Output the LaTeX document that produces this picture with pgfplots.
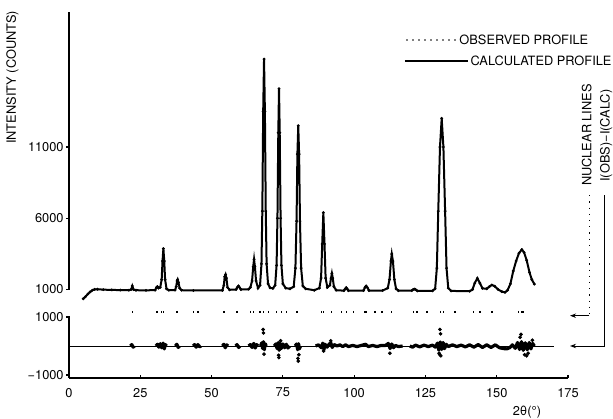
\documentclass[border=0pt]{standalone}
\usepackage{fontspec}
\setmainfont{TeX Gyre Heros}
\usepackage{pgfplots}
\usepackage{pgfplotstable}
\pgfplotsset{compat=1.18}
\usetikzlibrary{arrows.meta}

% powder profile (2theta, counts)
\pgfplotstableread{
x y
5.0 350
5.8 500
6.6 680
7.4 830
8.2 950
9.0 1010
10 1020
12 990
15 970
18 960
21 950
21.8 1000
22.2 1250
22.6 1000
23.5 950
27 940
30.2 960
30.7 1150
31.0 1200
31.4 1100
32.0 1150
32.5 1700
32.8 3000
33.1 3870
33.4 3000
33.7 1700
34.2 1050
35 950
37.2 960
37.6 1200
37.9 1600
38.1 1700
38.4 1500
38.8 1100
39.5 950
43.6 930
53.8 940
54.3 1300
54.6 1900
54.9 2050
55.2 1800
55.6 1150
56.3 980
58.6 1000
59.0 1150
59.4 1250
59.8 1150
60.3 1000
63.0 1020
63.6 1150
64.2 1600
64.6 2600
64.9 3120
65.2 2600
65.6 1600
66.3 1100
67.0 1300
67.5 2800
67.8 6500
68.1 13500
68.4 17170
68.7 13500
69.0 6500
69.3 2800
69.8 1400
70.5 1120
71.5 1080
72.3 1300
72.8 2700
73.1 6000
73.4 12000
73.65 15100
73.9 12000
74.2 6000
74.5 2700
75.0 1400
76.0 1100
77.5 1050
78.8 1200
79.4 2500
79.8 5800
80.1 10500
80.4 12500
80.7 10500
81.0 5800
81.4 2500
82.0 1250
83.0 1050
86 950
87.8 1100
88.4 1800
88.8 4200
89.2 6400
89.6 4200
90.0 1800
90.6 1150
91.5 1300
91.9 1800
92.2 2130
92.5 1800
92.9 1200
93.7 950
96.4 920
96.9 1050
97.2 1130
97.5 1050
98.0 920
103.3 930
103.8 1150
104.2 1250
104.6 1150
105.2 930
110 930
111.8 1100
112.4 1700
112.9 3000
113.2 3490
113.6 3000
114.1 1700
114.7 1050
115.5 920
120.2 920
120.7 1000
121.1 1030
121.5 1000
122.2 900
127.5 910
128.4 1050
129.0 2500
129.5 6500
130.1 11000
130.7 13010
131.3 11000
131.9 6500
132.4 2500
133.0 1100
134.0 900
140.5 880
141.5 1000
142.3 1450
143.2 1790
144.1 1450
145.0 1080
146.5 1050
147.4 1200
148.3 1320
149.3 1230
150.5 1000
151.8 850
152.9 800
153.8 950
154.8 1400
155.8 2300
156.8 3000
157.8 3550
158.8 3800
159.6 3600
160.5 3050
161.5 2200
162.3 1700
163.2 1380
}\profile

% I(obs)-I(calc)
\pgfplotstableread{
x d
21.5 0
22 50
22.5 -40
23 0
23.1 nan
30.5 0
31 60
31.5 -40
32 80
32.5 -60
33 100
33.4 -100
33.8 50
34.2 0
34.3 nan
37.3 0
37.8 60
38.3 -50
38.8 0
38.9 nan
43.5 0
44 50
44.6 -40
45.2 50
45.8 -30
46.3 0
46.4 nan
53.8 0
54.3 60
54.8 -60
55.3 40
55.8 0
55.9 nan
58.4 0
58.9 50
59.5 -50
60 0
60.1 nan
63 0
63.6 50
64.2 -50
64.8 90
65.3 -70
65.8 50
66.3 0
66.4 nan
67.2 0
67.6 110
67.9 -90
68.2 150
68.5 -130
68.8 80
69.2 0
69.3 nan
72 0
72.5 70
73 -90
73.4 120
73.7 -150
74.0 100
74.4 -90
75 70
75.6 -60
76.2 60
76.8 -70
77.4 0
77.5 nan
79.3 0
79.8 70
80.2 -130
80.5 80
80.8 -100
81.2 0
81.3 nan
86.5 0
87.5 40
88.5 -60
89.0 100
89.4 -120
89.8 60
90.5 -40
91.2 60
91.8 110
92.3 -50
93 50
94 0
95 40
96 -20
97 40
98 -20
99.5 20
101 -20
102.5 20
104 60
105 -20
106.5 20
108 -20
109.5 20
111 20
112 90
112.6 -90
113.2 70
113.8 -60
114.5 20
115.5 -20
117 0
117.1 nan
119.5 0
120.5 -40
121.5 30
123 -30
124.5 30
126 -20
127.5 30
128.5 -40
129.2 100
129.7 -140
130.2 140
130.7 -120
131.2 120
131.7 -90
132.3 60
133 -20
134.5 40
136 -20
137.5 30
139 -30
140.5 40
142 -40
143.5 50
145 -50
146.5 40
148 -50
149.5 40
151 -60
152.5 -90
153.5 -100
154.5 -60
155.5 40
156.5 -80
157.3 120
158 -120
158.7 150
159.3 -150
160 110
160.7 -130
161.4 120
162 -100
162.6 90
163.2 0
}\diff

% nuclear reflection positions
\pgfplotstableread{
x y
22.2 1180
30.9 1180
32.4 1180
33.1 1180
37.9 1180
43.7 1180
45.3 1180
54.3 1180
58.9 1180
63.6 1180
64.7 1180
67.0 1180
68.2 1180
69.9 1180
72.8 1180
74.6 1180
76.2 1180
79.9 1180
88.6 1180
89.2 1180
92.1 1180
95.6 1180
97.4 1180
99.7 1180
103.8 1180
104.4 1180
107.3 1180
109.7 1180
113.2 1180
120.8 1180
122.0 1180
125.5 1180
130.2 1180
131.3 1180
135.4 1180
141.8 1180
144.2 1180
148.3 1180
157.6 1180
158.8 1180
159.3 1180
}\nuclear

\begin{document}
\begin{tikzpicture}[font=\fontsize{6.4}{7.5}\selectfont]
\path[use as bounding box] (0,0) rectangle (306.5pt,209pt);

\begin{axis}[
    at={(34.5pt,64.25pt)}, anchor=south west,
    width=249.5pt, height=138.75pt, scale only axis,
    xmin=0, xmax=175, ymin=1000, ymax=20475,
    axis x line=none, axis y line*=left,
    xtick=\empty, scaled y ticks=false,
    ytick={1000,6000,11000}, yticklabels={1000,6000,11000},
    tick align=outside, major tick length=1.5pt,
    axis line style={line width=0.7pt},
    tick style={line width=0.6pt, black},
    yticklabel style={inner sep=1pt},
    clip=false,
]
\addplot[black, line width=1pt] table[x=x, y=y] {\profile};
\addplot[black, only marks, mark=*, mark size=0.5pt] table[x=x, y=y] {\profile};

\node[rotate=90] at (axis cs:-19.8,15878) {INTENSITY (COUNTS)};
\draw[line width=0.9pt, line cap=round, dash pattern=on 0pt off 3pt]
    (axis cs:118.5,18510) -- (axis cs:135.4,18510);
\node[anchor=west, inner sep=0pt] at (axis cs:136.8,18510) {OBSERVED PROFILE};
\draw[line width=0.6pt] (axis cs:117.8,17036) -- (axis cs:139.9,17036);
\node[anchor=west, inner sep=0pt] at (axis cs:140.7,17036) {CALCULATED PROFILE};
\node[rotate=90, inner sep=0pt] at (axis cs:181.6,11843) {NUCLEAR LINES};
\node[rotate=90, inner sep=0pt] at (axis cs:188.4,11800) {I(OBS)−I(CALC)};
\end{axis}

\begin{axis}[
    at={(34.5pt,20.05pt)}, anchor=south west,
    width=249.5pt, height=31.175pt, scale only axis,
    xmin=0, xmax=175, ymin=-1100, ymax=1050,
    axis x line*=bottom, axis y line*=left,
    xtick={0,25,50,75,100,125,150,175},
    xticklabels={0,25,50,75,100,125,150,175},
    ytick={-1000,1000}, yticklabels={−1000,1000},
    xtick align=inside, ytick align=outside, major tick length=1.5pt,
    axis line style={line width=0.7pt},
    tick style={line width=0.6pt, black},
    yticklabel style={inner sep=1pt},
    xticklabel style={yshift=-1.5pt},
    clip=false,
]
\addplot[black, line width=0.5pt] coordinates {(0,0) (170,0)};
\addplot[black, line width=1.6pt, line join=round, unbounded coords=jump] table[x=x, y=d] {\diff};
\addplot[black, only marks, mark=*, mark size=0.7pt] coordinates {
    (68.1,570) (68.2,450) (68.4,-280) (73.5,-320) (73.6,-400) (74.2,180)
    (80.3,-430) (80.4,-520) (80.6,-300) (89.3,-170) (91.8,180) (112.5,-250)
    (129.8,-250) (130.0,-300) (130.1,570) (130.3,420) (130.4,-340)
    (158.2,300) (158.5,400) (159.8,-300) (160.5,-340) (161.0,-250) (162.5,200)};
\addplot[black, only marks, mark=|, mark size=0.5pt, line width=0.7pt]
    table[x=x, y=y] {\nuclear};

\draw[line width=0.5pt, dash pattern=on 0.6pt off 2.5pt] (axis cs:182.5,5200) -- (axis cs:182.5,1045);
\draw[line width=0.5pt, -{Stealth[length=3pt,width=2.2pt]}] (axis cs:182.5,1045) -- (axis cs:175.7,1045);
\draw[line width=0.5pt, -{Stealth[length=3pt,width=2.2pt]}]
    (axis cs:187.7,5200) -- (axis cs:187.7,0) -- (axis cs:175.7,0);
\node at (axis cs:160.6,-2276) {2θ(°)};
\end{axis}
\end{tikzpicture}
\end{document}
